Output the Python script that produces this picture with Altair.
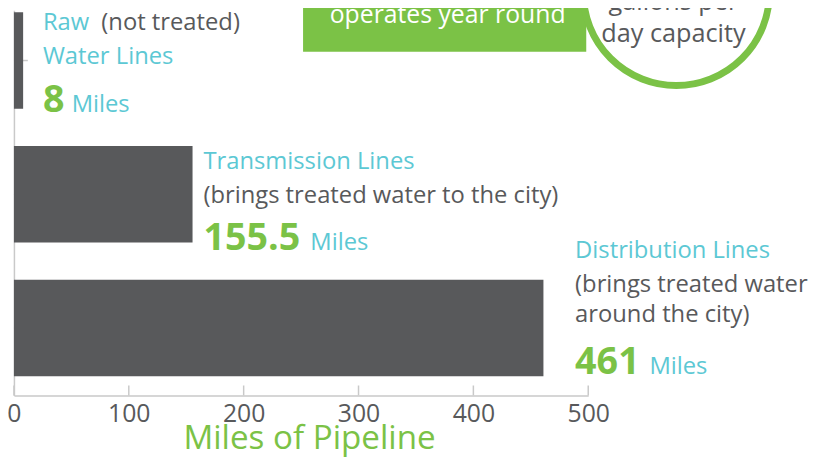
import altair as alt
import pandas as pd

# ---- data ----
categories = ["Raw Water Lines", "Transmission Lines", "Distribution Lines"]
miles = [8, 155.5, 461]
number_labels = ["8", "155.5", "461"]
tick_values = [0, 100, 200, 300, 400, 500]
axis_title = "Miles of Pipeline"
unit_label = "Miles"
box_text = ["operates year round"]
circle_text = ["gallons per", "day capacity"]

BAR = "#58595b"
GREY = "#58595b"
TEAL = "#5cc8d4"
GREEN = "#7bc246"
AXIS = "#c9c9c9"
FONT = "Open Sans"

df = pd.DataFrame({"category": categories, "miles": miles, "num": number_labels})
ticks_df = pd.DataFrame({"miles": tick_values})

Y = alt.Y("category:N", sort=categories,
          scale=alt.Scale(paddingInner=0.28, paddingOuter=0.08, align=0.1),
          axis=alt.Axis(labels=False, ticks=False, title=None, grid=False,
                        domainColor=AXIS, domainWidth=1.5))
X = alt.X("miles:Q", scale=alt.Scale(domain=[0, 500], nice=False, zero=True),
          axis=alt.Axis(values=tick_values, ticks=False, grid=False, labelFontSize=25,
                        labelColor=GREY, labelPadding=26, labelBaseline="alphabetic",
                        labelFont=FONT, labelFlush=False, title=axis_title,
                        titleColor=GREEN, titleFontSize=33.5, titleFontWeight="normal",
                        titleFont=FONT, titleX=298, titleY=54, titleBaseline="alphabetic",
                        titleAlign="center", domainColor=AXIS, domainWidth=1.5))

base = alt.Chart(df)

ytick = base.mark_rule(color=AXIS, strokeWidth=1.5).encode(
    y=alt.Y("category:N", sort=categories), x=alt.value(0), x2=alt.value(14))
bars = base.mark_bar(color=BAR).encode(x=X, y=Y)
xticks = alt.Chart(ticks_df).mark_rule(color=AXIS, strokeWidth=1.5).encode(
    x="miles:Q", y=alt.value(379), y2=alt.value(389))


def label(cat, text, color, dx, dy, size=24, weight="normal"):
    d = df[df.category == cat].assign(label=text)
    return alt.Chart(d).mark_text(
        align="left", baseline="alphabetic", dx=dx, dy=dy, fontSize=size,
        fontWeight=weight, color=color, font=FONT).encode(
        x="miles:Q", y=alt.Y("category:N", sort=categories), text="label:N")


c0, c1, c2 = categories
labels = [
    label(c0, "Raw", TEAL, 20, -30.5),
    label(c0, "(not treated)", GREY, 79, -30.5),
    label(c0, "Water Lines", TEAL, 20, 3.5),
    label(c0, number_labels[0], GREEN, 20, 51.5, size=38, weight="bold"),
    label(c0, unit_label, TEAL, 49, 51.5),
    label(c1, "Transmission Lines", TEAL, 11, -25.5),
    label(c1, "(brings treated water to the city)", GREY, 11, 8.5),
    label(c1, number_labels[1], GREEN, 11, 56.5, size=38, weight="bold"),
    label(c1, unit_label, TEAL, 119, 56.5),
    label(c2, "Distribution Lines", TEAL, 32, -70.5),
    label(c2, "(brings treated water", GREY, 32, -36.5),
    label(c2, "around the city)", GREY, 32, -6.5),
    label(c2, number_labels[2], GREEN, 32, 46.5, size=38, weight="bold"),
    label(c2, unit_label, TEAL, 107, 46.5),
]

box_df = pd.DataFrame({"t": box_text})
box = alt.Chart(box_df).mark_rect(color=GREEN).encode(
    x=alt.value(292), x2=alt.value(578), y=alt.value(-8), y2=alt.value(42))
box_txt = alt.Chart(box_df).mark_text(
    color="white", fontSize=25, font=FONT, align="center", baseline="alphabetic").encode(
    x=alt.value(438), y=alt.value(13), text="t:N")

circ_df = pd.DataFrame({"t": circle_text, "row": [0, 1]})
circle = alt.Chart(circ_df.head(1)).mark_point(
    shape="circle", size=188 * 188, filled=False, fill="white", fillOpacity=1,
    stroke=GREEN, strokeWidth=7, opacity=1).encode(
    x=alt.value(669), y=alt.value(-18))
circ_txt1 = alt.Chart(circ_df[circ_df.row == 0]).mark_text(
    color=GREY, fontSize=25.5, font=FONT, align="center", baseline="alphabetic").encode(
    x=alt.value(666), y=alt.value(0), text="t:N")
circ_txt2 = alt.Chart(circ_df[circ_df.row == 1]).mark_text(
    color=GREY, fontSize=25.5, font=FONT, align="center", baseline="alphabetic").encode(
    x=alt.value(666), y=alt.value(32), text="t:N")

chart = alt.layer(
    ytick, bars, xticks, *labels, box, box_txt, circle, circ_txt1, circ_txt2
).properties(
    width=580, height=389,
    autosize=alt.AutoSizeParams(type="none"),
    padding={"left": 6, "top": 0, "right": 226, "bottom": 63},
    background="white",
).configure(font=FONT, view=alt.ViewConfig(stroke=None))

chart.save("out.html", embed_options={"renderer": "svg", "actions": False})
